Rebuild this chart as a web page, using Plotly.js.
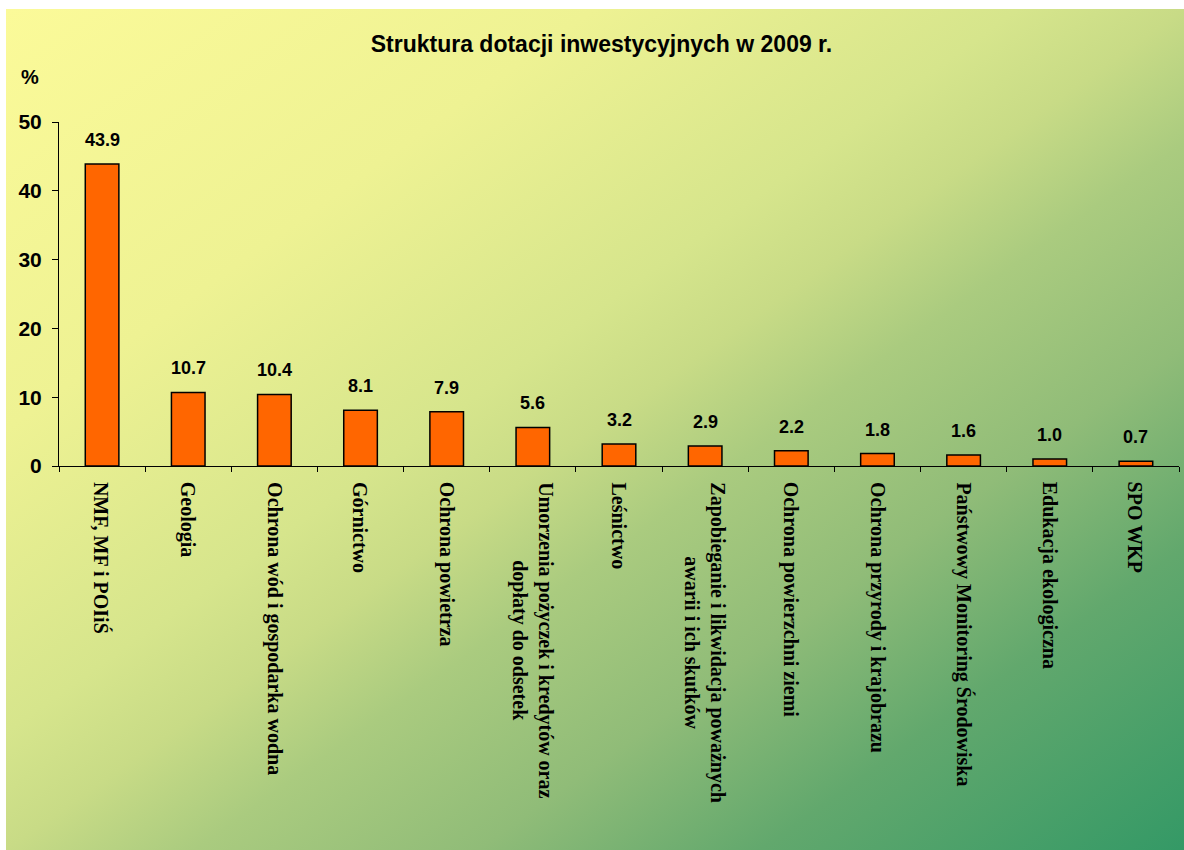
<!DOCTYPE html>
<html>
<head>
<meta charset="utf-8">
<script src="https://cdn.plot.ly/plotly-3.0.1.min.js"></script>
<style>
  html, body { margin: 0; padding: 0; background: #ffffff; }
  #bg {
    position: absolute; left: 6px; top: 9px; width: 1178px; height: 841px;
    background: linear-gradient(to bottom right, #fbfa99 0%, #eef293 25%, #d6e58c 43%, #c8db86 50%, #aacb7f 58%, #90bc78 70%, #62a86d 82%, #349966 100%);
  }
  #chart { position: absolute; left: 0; top: 0; width: 1184px; height: 850px; }
</style>
</head>
<body>
<div id="bg"></div>
<div id="chart"></div>
<script>
const categories = [
  "NMF, MF i POIiŚ",
  "Geologia",
  "Ochrona wód i gospodarka wodna",
  "Górnictwo",
  "Ochrona powietrza",
  "Umorzenia pożyczek i kredytów oraz<br>dopłaty do odsetek",
  "Leśnictwo",
  "Zapobieganie i likwidacja poważnych<br>awarii i ich skutków",
  "Ochrona powierzchni ziemi",
  "Ochrona przyrody i krajobrazu",
  "Państwowy Monitoring Środowiska",
  "Edukacja ekologiczna",
  "SPO WKP"
];
const values = [43.9, 10.7, 10.4, 8.1, 7.9, 5.6, 3.2, 2.9, 2.2, 1.8, 1.6, 1.0, 0.7];
const yTicks = [0, 10, 20, 30, 40, 50];
const chartTitle = "Struktura dotacji inwestycyjnych w 2009 r.";
const unitLabel = "%";

const sansBold = { family: "Liberation Sans, Arial, sans-serif", color: "#000000", weight: 700 };
const serifBold = { family: "Liberation Serif, Times New Roman, serif", color: "#000000", weight: 700 };

const trace = {
  type: "bar",
  x: categories,
  y: values,
  width: 0.39,
  marker: { color: "#ff6600", line: { color: "#000000", width: 1.5 } },
  hoverinfo: "x+y"
};

const annotations = [];
values.forEach((v, i) => {
  annotations.push({
    x: categories[i], y: v, xref: "x", yref: "y",
    text: v.toFixed(1), showarrow: false,
    xanchor: "center", yanchor: "bottom", yshift: 12,
    font: Object.assign({ size: 18 }, sansBold)
  });
});
categories.forEach((c) => {
  annotations.push({
    x: c, y: 0, xref: "x", yref: "paper",
    text: c, showarrow: false, textangle: 90, align: "center",
    xanchor: "center", yanchor: "top", yshift: -14,
    font: Object.assign({ size: 20 }, serifBold)
  });
});
annotations.push({
  x: -0.026, y: 1.131, xref: "paper", yref: "paper",
  text: unitLabel, showarrow: false, xanchor: "center", yanchor: "middle",
  font: Object.assign({ size: 20 }, sansBold)
});

const layout = {
  width: 1184, height: 850,
  margin: { l: 59, r: 5, t: 122, b: 384, pad: 0 },
  paper_bgcolor: "rgba(0,0,0,0)",
  plot_bgcolor: "rgba(0,0,0,0)",
  showlegend: false,
  title: {
    text: chartTitle, x: 0.508, y: 0.948, xanchor: "center", yanchor: "middle",
    font: Object.assign({ size: 23 }, sansBold)
  },
  xaxis: {
    type: "category",
    showticklabels: false,
    ticks: "outside", tickson: "boundaries", ticklen: 5, tickwidth: 1, tickcolor: "#000000",
    showline: true, linecolor: "#000000", linewidth: 1,
    showgrid: false, zeroline: false, fixedrange: true
  },
  yaxis: {
    range: [0, 50],
    tickvals: yTicks,
    ticktext: yTicks.map(String),
    ticks: "outside", ticklen: 6, tickwidth: 1, tickcolor: "#000000",
    showline: true, linecolor: "#000000", linewidth: 1,
    showgrid: false, zeroline: false, fixedrange: true,
    ticklabelstandoff: 6,
    tickfont: Object.assign({ size: 21 }, sansBold)
  },
  annotations: annotations
};

Plotly.newPlot("chart", [trace], layout, { displayModeBar: false, staticPlot: true });
</script>
</body>
</html>
